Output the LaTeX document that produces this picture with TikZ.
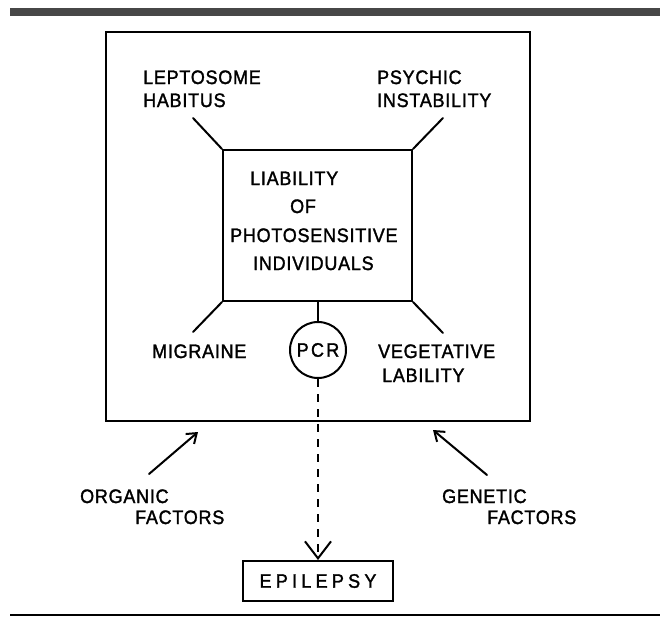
\documentclass[tikz,border=0pt]{standalone}
\usepackage{fontspec}
\setmainfont{Liberation Sans}
\newfontfamily\lett[LetterSpace=4,FakeStretch=0.92,FakeBold=1.6]{Liberation Sans}
\newfontfamily\wlett[LetterSpace=12,FakeStretch=0.92,FakeBold=1.6]{Liberation Sans}
\newfontfamily\xwlett[LetterSpace=22,FakeStretch=0.92,FakeBold=1.6]{Liberation Sans}
\usetikzlibrary{arrows.meta}
\begin{document}
\begin{tikzpicture}[x=1pt,y=-1pt,
  lbl/.style={anchor=base west,inner sep=0pt,font=\fontsize{19.5}{22}\lett},
  ln/.style={line width=2pt,line cap=round},
  boxn/.style={draw,line width=2pt,inner sep=0pt},
  barb/.style={-{Straight Barb[length=9pt,width=13pt,line width=2pt]}}
]
\useasboundingbox (0,0) rectangle (664,622);
% top bar and bottom rule
\fill[black!72] (10,8) rectangle (660,16);
\draw[line width=2.2pt] (10,615) -- (660,615);
% boxes
\node[boxn,minimum width=424pt,minimum height=389pt] (outer) at (318,226.5) {};
\node[boxn,minimum width=189pt,minimum height=151pt] (inner) at (317.5,225.5) {};
% texts
\node[lbl] (lep) at (143,84) {LEPTOSOME};
\node[lbl] (hab) at (143,107) {HABITUS};
\node[lbl] (psy) at (377,84) {PSYCHIC};
\node[lbl] (ins) at (377,107) {INSTABILITY};
\node[lbl] (lia) at (250,185) {LIABILITY};
\node[lbl] (of) at (290,213) {OF};
\node[lbl] (pho) at (230,242) {PHOTOSENSITIVE};
\node[lbl] (ind) at (253,270) {INDIVIDUALS};
\node[lbl] (mig) at (152,358) {MIGRAINE};
\node[lbl] (veg) at (378,358) {VEGETATIVE};
\node[lbl] (lab) at (382,382) {LABILITY};
\node[lbl] (org) at (80,503) {ORGANIC};
\node[lbl] (fac1) at (135,524) {FACTORS};
\node[lbl] (gen) at (442,503) {GENETIC};
\node[lbl] (fac2) at (487,524) {FACTORS};
% PCR circle
\node[draw,circle,line width=2pt,minimum size=56pt,inner sep=0pt,font=\fontsize{19.5}{22}\wlett] (pcr) at (318,350) {PCR};
% epilepsy box
\node[boxn,minimum width=150pt,minimum height=40pt,font=\fontsize{19.5}{22}\xwlett] (epi) at (318,581) {EPILEPSY};
% leader lines
\coordinate (ctl) at (193,118);
\coordinate (ctr) at (443,118);
\coordinate (cbl) at (193,332);
\coordinate (cbr) at (443,333);
\draw[ln] (ctl) -- (inner.north west);
\draw[ln] (ctr) -- (inner.north east);
\draw[ln] (cbl) -- (inner.south west);
\draw[ln] (cbr) -- (inner.south east);
\draw[ln] (inner.south -| pcr.north) -- (pcr.north);
% dashed arrow
\draw[line width=2pt,dash pattern=on 8pt off 7pt,-{Straight Barb[length=17pt,width=26pt,line width=2pt]}] (pcr.south) -- (epi.north);
% factor arrows
\coordinate (oa) at (149,474);
\coordinate (ot) at (198,432);
\coordinate (ga) at (487,475);
\coordinate (gt) at (433,430);
\draw[ln,barb] (oa) -- (ot);
\draw[ln,barb] (ga) -- (gt);
\end{tikzpicture}
\end{document}
